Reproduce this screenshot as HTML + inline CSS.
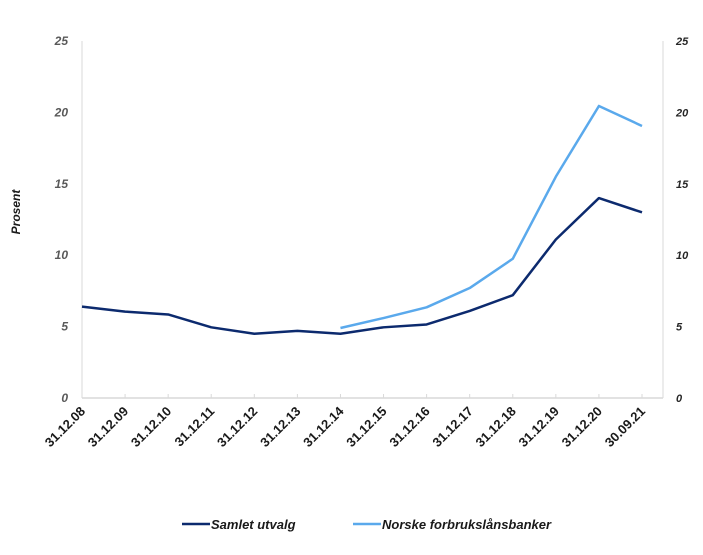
<!DOCTYPE html>
<html><head><meta charset="utf-8"><style>
body{margin:0;background:#fff;font-family:"Liberation Sans",sans-serif}
svg text{font-family:"Liberation Sans",sans-serif}
</style></head><body>
<svg id="chart" width="703" height="550" xmlns="http://www.w3.org/2000/svg"></svg>
<script>
const categories=["31.12.08","31.12.09","31.12.10","31.12.11","31.12.12","31.12.13","31.12.14","31.12.15","31.12.16","31.12.17","31.12.18","31.12.19","31.12.20","30.09.21"];
const samletValues=[6.4,6.05,5.85,4.95,4.5,4.7,4.5,4.95,5.15,6.1,7.2,11.1,14.0,13.0];
const forbrukValues=[null,null,null,null,null,null,4.9,5.6,6.35,7.7,9.75,15.5,20.45,19.05];
const yTicks=[0,5,10,15,20,25];
const svg=document.getElementById('chart');
const NS="http://www.w3.org/2000/svg";
const x0=82,x1=642,yBase=398,yTop=41,yMax=25,axR=663;
const xs=i=>x0+i*(x1-x0)/(categories.length-1);
const ys=v=>yBase-(v/yMax)*(yBase-yTop);
function mk(t,a,p){const e=document.createElementNS(NS,t);for(const k in a)e.setAttribute(k,a[k]);(p||svg).appendChild(e);return e;}
let e=mk('line',{x1:x0,y1:yTop,x2:x0,y2:yBase,stroke:'#d9d9d9','stroke-width':1});


e=mk('line',{x1:axR,y1:yTop,x2:axR,y2:yBase,stroke:'#d9d9d9','stroke-width':1});


e=mk('line',{x1:x0,y1:yBase,x2:axR,y2:yBase,stroke:'#d9d9d9','stroke-width':1.5});


yTicks.forEach(v=>{
  let t=mk('text',{x:68,y:ys(v)+4,'text-anchor':'end','font-size':12,'font-weight':'bold','font-style':'italic',fill:'#595959'});
  t.textContent=v;
  
  
  let t2=mk('text',{x:676,y:ys(v)+4,'text-anchor':'start','font-size':11,'font-weight':'bold','font-style':'italic',fill:'#262626'});
  t2.textContent=v;
  
  
});
categories.forEach((c,i)=>{
  let tk=mk('line',{x1:xs(i),y1:yBase-4,x2:xs(i),y2:yBase,stroke:'#d9d9d9'});
  
  
  let t=mk('text',{x:xs(i)+4,y:yBase+14,'text-anchor':'end','font-size':13,'font-weight':'bold',fill:'#1a1a1a',transform:`rotate(-45 ${xs(i)+4} ${yBase+14})`});
  t.textContent=c;
  
  
});
let yt=mk('text',{x:20,y:212,'text-anchor':'middle','font-size':12,'font-weight':'bold','font-style':'italic',fill:'#1a1a1a',transform:'rotate(-90 20 212)'});
yt.textContent='Prosent';


function line(vals,color,name){
  let d='';vals.forEach((v,i)=>{if(v==null)return;d+=(d?'L':'M')+xs(i)+','+ys(v);});
  let p=mk('path',{d:d,fill:'none',stroke:color,'stroke-width':2.5,'stroke-linejoin':'round'});
  
  
}
line(samletValues,'#0c2a6e','series-samlet-utvalg');
line(forbrukValues,'#5aa9ec','series-norske-forbrukslansbanker');
function legend(x,color,label,name){
  let g=mk('g',{});
  
  
  mk('line',{x1:x,y1:524,x2:x+28,y2:524,stroke:color,'stroke-width':2.5},g);
  let t=mk('text',{x:x+29,y:529,'font-size':13,'font-weight':'bold','font-style':'italic',fill:'#1a1a1a'},g);
  t.textContent=label;
}
legend(182,'#0c2a6e','Samlet utvalg','legend-entry-samlet-utvalg');
legend(353,'#5aa9ec','Norske forbrukslånsbanker','legend-entry-norske-forbrukslansbanker');
</script>
</body></html>
